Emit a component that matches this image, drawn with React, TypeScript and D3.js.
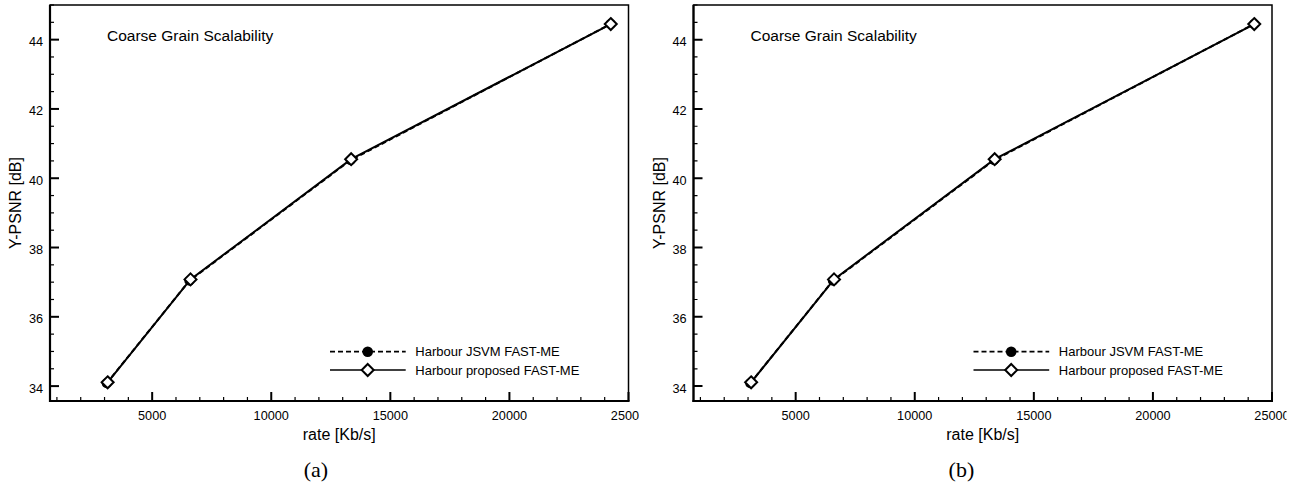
import React from "react";
import * as d3 from "d3";

const rateJSVM = [3090, 6560, 13330, 24250];
const psnrJSVM = [34.08, 37.04, 40.52, 44.45];
const rateProposed = [3130, 6610, 13355, 24255];
const psnrProposed = [34.11, 37.08, 40.55, 44.45];
const seriesNames = ["Harbour JSVM FAST-ME", "Harbour proposed FAST-ME"];
const xMajorTicks = [5000, 10000, 15000, 20000, 25000];
const yMajorTicks = [34, 36, 38, 40, 42, 44];
const panelCaptions = ["(a)", "(b)"];
const annotation = "Coarse Grain Scalability";
const xTitle = "rate [Kb/s]";
const yTitle = "Y-PSNR [dB]";

const SANS = "'Liberation Sans', Arial, Helvetica, sans-serif";
const SERIF = "'Liberation Serif', 'Times New Roman', serif";

function Panel({ dx, caption, clipRight, idx }: { dx: number; caption: string; clipRight: number; idx: number }) {
  const left = 50 + dx;
  const right = 628.5 + dx;
  const top = 5;
  const bottom = 401;
  const x = d3.scaleLinear().domain([710, 25000]).range([left, right]);
  const y = d3.scaleLinear().domain([33.57, 45]).range([bottom, top]);
  const xMinor = d3.range(1000, 25001, 1000);
  const yMinor = d3.range(34, 45.01, 0.5);
  const line = d3.line<[number, number]>().x((d) => x(d[0])).y((d) => y(d[1]));
  const jsvm = rateJSVM.map((r, i) => [r, psnrJSVM[i]] as [number, number]);
  const prop = rateProposed.map((r, i) => [r, psnrProposed[i]] as [number, number]);
  const diamond = (cx: number, cy: number, s: number) =>
    `M${cx},${cy - s}L${cx + s},${cy}L${cx},${cy + s}L${cx - s},${cy}Z`;
  const clipId = `clip${idx}`;
  const cx = (left + right) / 2;
  const cy = (top + bottom) / 2;
  const legX1 = 330 + dx;
  const legX2 = 405.7 + dx;
  const legM = 367.7 + dx;
  const legY = [351.7, 370];
  return (
    <g>
      <defs>
        <clipPath id={clipId}>
          <rect x={dx} y={0} width={clipRight - dx} height={486} />
        </clipPath>
      </defs>
      <g clipPath={`url(#${clipId})`}>
        <rect x={left} y={top} width={right - left} height={bottom - top} fill="none" stroke="#000" strokeWidth={1.5} />
        <line x1={left} y1={top} x2={left} y2={bottom + 1} stroke="#000" strokeWidth={2.2} />
        <line x1={left - 1} y1={bottom} x2={right + 1} y2={bottom} stroke="#000" strokeWidth={2.2} />
        {xMinor.map((t) => {
          const major = t % 5000 === 0;
          return (
            <line key={`xm${t}`} x1={x(t)} x2={x(t)} y1={bottom} y2={bottom - (major ? 9 : 4)} stroke="#000" strokeWidth={major ? 2 : 1.2} />
          );
        })}
        {xMajorTicks.map((t) => (
          <text key={`xl${t}`} x={x(t)} y={419.5} textAnchor="middle" fontFamily={SANS} fontSize={12.7} fill="#000">
            {t}
          </text>
        ))}
        {yMinor.map((t) => {
          const major = Math.abs(t % 2) < 1e-6;
          return (
            <line key={`ym${t}`} x1={left} x2={left + (major ? 9 : 4)} y1={y(t)} y2={y(t)} stroke="#000" strokeWidth={major ? 2 : 1.2} />
          );
        })}
        {yMajorTicks.map((t) => (
          <text key={`yl${t}`} x={left - 7} y={y(t) + 6.5} textAnchor="end" fontFamily={SANS} fontSize={12.7} fill="#000">
            {t}
          </text>
        ))}
        <text x={cx} y={439.5} textAnchor="middle" fontFamily={SANS} fontSize={16} fill="#000">
          {xTitle}
        </text>
        <text transform={`translate(${21 + dx},${cy}) rotate(-90)`} textAnchor="middle" fontFamily={SANS} fontSize={16} fill="#000">
          {yTitle}
        </text>
        <text x={107 + dx} y={40.5} fontFamily={SANS} fontSize={15.5} fill="#000">
          {annotation}
        </text>
        <path d={line(jsvm) || ""} fill="none" stroke="#000" strokeWidth={2} strokeDasharray="5,3" />
        {jsvm.map((d, i) => (
          <circle key={`c${i}`} cx={x(d[0])} cy={y(d[1])} r={5} fill="#000" />
        ))}
        <path d={line(prop) || ""} fill="none" stroke="#000" strokeWidth={2} />
        {prop.map((d, i) => (
          <path key={`d${i}`} d={diamond(x(d[0]), y(d[1]), 6)} fill="#fff" stroke="#000" strokeWidth={2} />
        ))}
        <line x1={legX1} x2={legX2} y1={legY[0]} y2={legY[0]} stroke="#000" strokeWidth={1.7} strokeDasharray="5,3" />
        <circle cx={legM} cy={legY[0]} r={5.3} fill="#000" />
        <line x1={legX1} x2={legX2} y1={legY[1]} y2={legY[1]} stroke="#000" strokeWidth={1.7} />
        <path d={diamond(legM, legY[1], 6)} fill="#fff" stroke="#000" strokeWidth={2} />
        {seriesNames.map((n, i) => (
          <text key={n} x={415.3 + dx} y={legY[i] + 4.6} fontFamily={SANS} fontSize={13} fill="#000">
            {n}
          </text>
        ))}
      </g>
      <text x={316 + dx * 1.003} y={477} textAnchor="middle" fontFamily={SERIF} fontSize={22} fill="#000">
        {caption}
      </text>
    </g>
  );
}

export default function App() {
  return (
    <svg width={1294} height={486} style={{ position: "absolute", left: 0, top: 0, background: "#fff" }}>
      <rect x={0} y={0} width={1294} height={486} fill="#fff" />
      <Panel dx={0} caption={panelCaptions[0]} clipRight={639} idx={0} />
      <Panel dx={643.5} caption={panelCaptions[1]} clipRight={1286.5} idx={1} />
    </svg>
  );
}
